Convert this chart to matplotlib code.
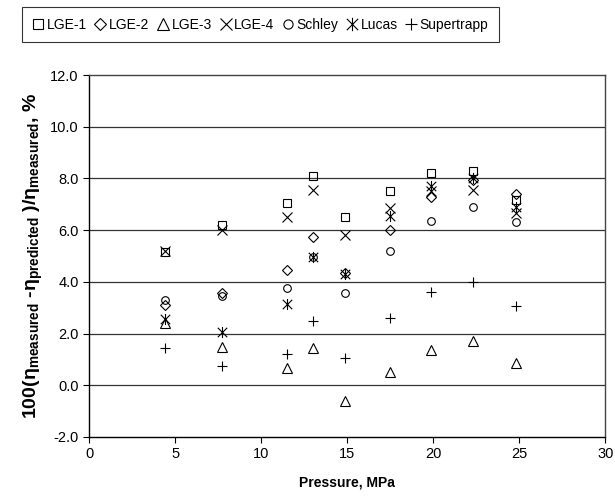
import numpy as np
import matplotlib
matplotlib.use('Agg')
import matplotlib.pyplot as plt
from matplotlib.path import Path

plt.rcParams['font.family'] = ['Liberation Sans', 'DejaVu Sans']
plt.rcParams['mathtext.fontset'] = 'custom'
plt.rcParams['mathtext.rm'] = 'Liberation Sans'
plt.rcParams['mathtext.bf'] = 'Liberation Sans:bold'

# pressure, MPa
pressure = [4.4, 7.7, 11.5, 13.0, 14.9, 17.5, 19.9, 22.3, 24.8]

# deviations, %
lge1 = [5.15, 6.2, 7.05, 8.1, 6.5, 7.5, 8.2, 8.3, 7.15]
lge2 = [3.1, 3.55, 4.45, 5.75, 4.35, 6.0, 7.3, 7.95, 7.4]
lge3 = [2.4, 1.5, 0.65, 1.45, -0.6, 0.5, 1.35, 1.7, 0.85]
lge4 = [5.2, 6.0, 6.5, 7.55, 5.8, 6.85, 7.5, 7.55, 6.65]
schley = [3.3, 3.45, 3.75, 4.95, 3.55, 5.2, 6.35, 6.9, 6.3]
lucas = [2.55, 2.05, 3.15, 4.95, 4.3, 6.55, 7.7, 8.0, 6.9]
supertrapp = [1.45, 0.75, 1.2, 2.5, 1.05, 2.6, 3.6, 4.0, 3.05]

names = ['LGE-1', 'LGE-2', 'LGE-3', 'LGE-4', 'Schley', 'Lucas', 'Supertrapp']
series = [lge1, lge2, lge3, lge4, schley, lucas, supertrapp]

# asterisk like excel: X with a vertical bar
asterisk = Path([(-0.85, -0.85), (0.85, 0.85), (-0.85, 0.85), (0.85, -0.85), (0, -1), (0, 1)],
                [Path.MOVETO, Path.LINETO, Path.MOVETO, Path.LINETO, Path.MOVETO, Path.LINETO])
markers = ['s', 'D', '^', 'x', 'o', asterisk, '+']
sizes = [6, 5, 7, 7, 5.5, 8, 7.5]

fig = plt.figure(figsize=(6.15, 5.0), dpi=100)
ax = fig.add_axes([0.145, 0.126, 0.839, 0.724])

handles = []
for vals, name, m, s in zip(series, names, markers, sizes):
    h, = ax.plot(pressure, vals, linestyle='none', marker=m, markersize=s,
                 markerfacecolor='none', markeredgecolor='black',
                 markeredgewidth=0.8, color='black', label=name)
    handles.append(h)

ax.set_xlim(0, 30)
ax.set_ylim(-2, 12)
ax.set_xticks(np.arange(0, 31, 5))
ax.set_yticks(np.arange(-2, 12.1, 2))
ax.set_yticklabels(['%.1f' % v for v in np.arange(-2, 12.1, 2)])
ax.tick_params(direction='out', length=4, width=0.8, labelsize=10.5, colors='black')

for v in np.arange(0, 11, 2):
    ax.axhline(v, color='#333333', linewidth=0.9, zorder=0)

for sp in ax.spines.values():
    sp.set_color('#444444')
    sp.set_linewidth(1.0)
ax.spines['bottom'].set_color('black')
ax.spines['left'].set_color('black')

ax.set_xlabel('Pressure, MPa', fontsize=10, fontweight='bold', labelpad=10)
ylab = (r'100(η$_{\mathbf{measured}}$ -η$_{\mathbf{predicted}}$ )/'
        r'η$_{\mathbf{measured}}$, %')
ax.set_ylabel(ylab, fontsize=14, fontweight='bold', labelpad=4)

leg = fig.legend(handles=handles, loc='upper left', bbox_to_anchor=(0.036, 0.985),
                 ncol=7, fontsize=10, frameon=True, fancybox=False,
                 handlelength=0.8, handletextpad=0.2, columnspacing=0.6,
                 borderpad=0.75, borderaxespad=0, markerscale=1.2)
leg.get_frame().set_edgecolor('black')
leg.get_frame().set_linewidth(0.8)

fig.savefig('out.png', dpi=100)
